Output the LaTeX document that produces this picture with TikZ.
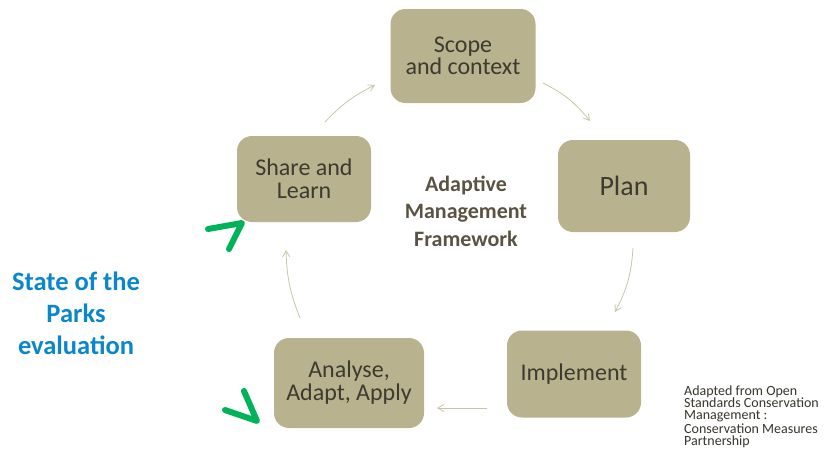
\documentclass[tikz,border=0pt]{standalone}
\usepackage{fontspec}
\setmainfont{Carlito}
\usetikzlibrary{arrows.meta}
\definecolor{boxfill}{HTML}{B8B28E}
\definecolor{boxtext}{HTML}{3D3A30}
\definecolor{arrowc}{HTML}{C9C4A6}
\definecolor{midtext}{HTML}{5A5243}
\definecolor{bluetext}{HTML}{0A86CC}
\definecolor{greenmark}{HTML}{00B359}
\tikzset{
  stagebox/.style={draw=none, fill=boxfill, rounded corners=15pt, text=boxtext, align=center, font=\fontsize{24}{23}\selectfont, inner sep=0pt},
  cyclearrow/.style={draw=arrowc, line width=0.8pt, -{Straight Barb[length=6pt,width=7pt]}},
  tick/.style={draw=greenmark, line width=6pt, line cap=round, line join=round}
}
\begin{document}
\begin{tikzpicture}[x=1pt,y=-1pt]
\useasboundingbox (0,0) rectangle (829,450);
\node[stagebox, minimum width=145pt, minimum height=94pt, font=\fontsize{24}{22}\selectfont] (scope) at (463,56) {Scope\\ and context};
\node[stagebox, minimum width=132pt, minimum height=92pt, font=\fontsize{28}{30}\selectfont] (plan) at (624,186) {Plan};
\node[stagebox, minimum width=134pt, minimum height=87pt] (impl) at (574,374) {Implement};
\node[stagebox, minimum width=150pt, minimum height=90pt] (anal) at (349,383) {Analyse,\\Adapt, Apply};
\node[stagebox, minimum width=134pt, minimum height=86pt] (share) at (304,179) {Share and\\Learn};

\coordinate (a1s) at (543,83); \coordinate (a1e) at (590,121);
\coordinate (a2s) at (633,248); \coordinate (a2e) at (615,312);
\coordinate (a3s) at (487,408); \coordinate (a3e) at (437,408);
\coordinate (a4s) at (300,318); \coordinate (a4e) at (286,250);
\coordinate (a5s) at (325,122); \coordinate (a5e) at (375,85);
\draw[cyclearrow] (a1s) to[bend left=12] (a1e);
\draw[cyclearrow] (a2s) to[bend left=12] (a2e);
\draw[cyclearrow] (a3s) -- (a3e);
\draw[cyclearrow] (a4s) to[bend left=10] (a4e);
\draw[cyclearrow] (a5s) to[bend left=10] (a5e);

\node[font=\bfseries\fontsize{22}{27.5}\selectfont, text=midtext, align=center] (title) at (466,211) {Adaptive\\Management\\Framework};
\node[font=\bfseries\fontsize{26.5}{32}\selectfont, text=bluetext, align=center] (sop) at (76,313) {State of the\\Parks\\evaluation};
\node[font=\fontsize{14}{12}\selectfont, text=boxtext!90!black, align=left, anchor=north west, inner sep=0pt] (src) at (684,386) {Adapted from Open\\Standards Conservation\\Management :\\Conservation Measures\\Partnership};

\coordinate (g1a) at (208,229); \coordinate (g1b) at (242,223); \coordinate (g1c) at (229,249);
\draw[tick] (g1a) -- (g1b) -- (g1c);
\coordinate (g2a) at (244,391); \coordinate (g2b) at (257,421); \coordinate (g2c) at (225,410);
\draw[tick] (g2a) -- (g2b) -- (g2c);
\end{tikzpicture}
\end{document}
